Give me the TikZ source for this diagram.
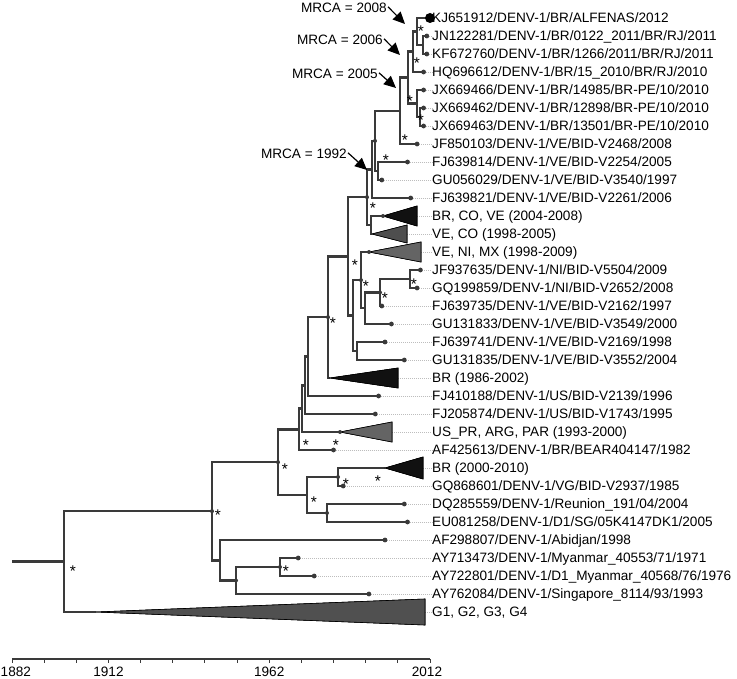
\documentclass[tikz,border=0pt]{standalone}
\usepackage{fontspec}
\setmainfont{Liberation Sans}
\usetikzlibrary{arrows.meta}
\definecolor{brc}{HTML}{3A3A3A}
\definecolor{leadc}{HTML}{BDBDBD}
\definecolor{triA}{HTML}{111111}
\definecolor{triB}{HTML}{4E4E4E}
\definecolor{triC}{HTML}{646464}
\definecolor{triG}{HTML}{505050}
\newcommand{\mytip}[4]{%
  \coordinate (#1) at (#2,#3);
  \node[lab] (#1L) at (432,#3+4.9) {#4};
  \draw[lead] (#1) -- (#1 -| #1L.west);}
\newcommand{\mytri}[7]{% name, apex x, y, base x, half height, fill, label
  \coordinate (#1) at (#2,#3);
  \node[lab] (#1L) at (432,#3+4.9) {#7};
  \draw[lead] (#4,#3) -- (#1 -| #1L.west);
  \filldraw[fill=#6, draw=black, line width=0.6pt] (#1) -- (#4,#3-#5) -- (#4,#3+#5) -- cycle;}
\begin{document}
\begin{tikzpicture}[x=1pt,y=-1pt,
  br/.style={draw=brc, line width=2.5pt},
  lead/.style={draw=leadc, line width=0.7pt, dash pattern=on 1pt off 1pt},
  tipdot/.style={circle, fill=brc, inner sep=0pt, minimum size=4.8pt},
  inndot/.style={circle, fill=brc, inner sep=0pt, minimum size=4pt},
  lab/.style={anchor=base west, inner sep=0pt, font=\fontsize{13.6}{16}\selectfont},
  ast/.style={anchor=base, inner sep=0pt, font=\fontsize{15.5}{16}\selectfont},
  mrca/.style={anchor=base east, inner sep=0pt, font=\fontsize{13.6}{16}\selectfont},
  arr/.style={draw=black, line width=1.2pt, -{Triangle[length=12pt,width=11pt]}},
  axl/.style={anchor=base, inner sep=0pt, font=\fontsize{13.6}{16}\selectfont}]
\useasboundingbox (0,0) rectangle (737,679);

% ---------- tips and labels ----------
\mytip{t1}{430}{18}{KJ651912/DENV-1/BR/ALFENAS/2012}
\mytip{t2}{426.8}{36}{JN122281/DENV-1/BR/0122\_2011/BR/RJ/2011}
\mytip{t3}{426.8}{54}{KF672760/DENV-1/BR/1266/2011/BR/RJ/2011}
\mytip{t4}{423.6}{72}{HQ696612/DENV-1/BR/15\_2010/BR/RJ/2010}
\mytip{t5}{423.6}{90}{JX669466/DENV-1/BR/14985/BR-PE/10/2010}
\mytip{t6}{423.6}{108}{JX669462/DENV-1/BR/12898/BR-PE/10/2010}
\mytip{t7}{423.6}{126}{JX669463/DENV-1/BR/13501/BR-PE/10/2010}
\mytip{t8}{417.1}{144}{JF850103/DENV-1/VE/BID-V2468/2008}
\mytip{t9}{407.5}{162}{FJ639814/DENV-1/VE/BID-V2254/2005}
\mytip{t10}{381.8}{180}{GU056029/DENV-1/VE/BID-V3540/1997}
\mytip{t11}{410.7}{198}{FJ639821/DENV-1/VE/BID-V2261/2006}
\mytri{t12}{383}{216}{417}{10}{triA}{BR, CO, VE (2004-2008)}
\mytri{t13}{372}{234}{407}{9}{triB}{VE, CO (1998-2005)}
\mytri{t14}{369}{252}{421}{10}{triC}{VE, NI, MX (1998-2009)}
\mytip{t15}{420.4}{270}{JF937635/DENV-1/NI/BID-V5504/2009}
\mytip{t16}{417.1}{288}{GQ199859/DENV-1/NI/BID-V2652/2008}
\mytip{t17}{381.8}{306}{FJ639735/DENV-1/VE/BID-V2162/1997}
\mytip{t18}{391.4}{324}{GU131833/DENV-1/VE/BID-V3549/2000}
\mytip{t19}{385}{342}{FJ639741/DENV-1/VE/BID-V2169/1998}
\mytip{t20}{404.3}{360}{GU131835/DENV-1/VE/BID-V3552/2004}
\mytri{t21}{330}{378}{398}{10}{triA}{BR (1986-2002)}
\mytip{t22}{378.6}{396}{FJ410188/DENV-1/US/BID-V2139/1996}
\mytip{t23}{375.3}{414}{FJ205874/DENV-1/US/BID-V1743/1995}
\mytri{t24}{340}{432}{392}{10}{triC}{US\_PR, ARG, PAR (1993-2000)}
\mytip{t25}{333.5}{450}{AF425613/DENV-1/BR/BEAR404147/1982}
\mytri{t26}{385}{468}{423}{11}{triA}{BR (2000-2010)}
\mytip{t27}{343.2}{486}{GQ868601/DENV-1/VG/BID-V2937/1985}
\mytip{t28}{404.3}{504}{DQ285559/DENV-1/Reunion\_191/04/2004}
\mytip{t29}{407.5}{522}{EU081258/DENV-1/D1/SG/05K4147DK1/2005}
\mytip{t30}{385}{540}{AF298807/DENV-1/Abidjan/1998}
\mytip{t31}{298.2}{558}{AY713473/DENV-1/Myanmar\_40553/71/1971}
\mytip{t32}{314.2}{576}{AY722801/DENV-1/D1\_Myanmar\_40568/76/1976}
\mytip{t33}{368.9}{594}{AY762084/DENV-1/Singapore\_8114/93/1993}
\mytri{t34}{96}{612}{425}{13}{triG}{G1, G2, G3, G4}

% ---------- internal nodes ----------
\coordinate (nJNKF) at (423,45);
\coordinate (n2008) at (417,31.5);
\coordinate (n2006) at (413,51.75);
\coordinate (nJXb) at (420,117);
\coordinate (nJX) at (417,103.5);
\coordinate (n2005) at (408,77.6);
\coordinate (nR) at (400,110.8);
\coordinate (nT) at (378,171);
\coordinate (n1992) at (375,140.9);
\coordinate (nP) at (372,169.5);
\coordinate (nK) at (371,225);
\coordinate (nJ) at (367,197.2);
\coordinate (nJFGQ) at (410,279);
\coordinate (nN) at (380,292.5);
\coordinate (nO) at (365,308.25);
\coordinate (nV) at (361,280.1);
\coordinate (nU) at (357,351);
\coordinate (nW) at (353,315.6);
\coordinate (nI) at (348,256.4);
\coordinate (nH) at (328,317.2);
\coordinate (nXb) at (308,356.6);
\coordinate (nXa) at (305,385.3);
\coordinate (nY) at (302,408.6);
\coordinate (nZ) at (299,429.3);
\coordinate (nQ) at (338,477);
\coordinate (nDE) at (327,513);
\coordinate (nBb) at (307,495);
\coordinate (nB) at (278,462.2);
\coordinate (nE) at (280,567);
\coordinate (nD) at (236,580.5);
\coordinate (nC) at (220,560.3);
\coordinate (nA) at (212,511.2);
\coordinate (nRoot) at (64,561.6);
\coordinate (nStart) at (12,561.6);

% ---------- branches ----------
\draw[br] (nJNKF) |- (t2); \draw[br] (nJNKF) |- (t3);
\draw[br] (n2008) |- (t1); \draw[br] (n2008) |- (nJNKF);
\draw[br] (n2006) |- (n2008); \draw[br] (n2006) |- (t4);
\draw[br] (nJXb) |- (t6); \draw[br] (nJXb) |- (t7);
\draw[br] (nJX) |- (t5); \draw[br] (nJX) |- (nJXb);
\draw[br] (n2005) |- (n2006); \draw[br] (n2005) |- (nJX);
\draw[br] (nR) |- (n2005); \draw[br] (nR) |- (t8);
\draw[br] (nT) |- (t9); \draw[br] (nT) |- (t10);
\draw[br] (n1992) |- (nR); \draw[br] (n1992) |- (nT);
\draw[br] (nP) |- (n1992); \draw[br] (nP) |- (t11);
\draw[br] (nK) |- (t12); \draw[br] (nK) |- (t13);
\draw[br] (nJ) |- (nP); \draw[br] (nJ) |- (nK);
\draw[br] (nJFGQ) |- (t15); \draw[br] (nJFGQ) |- (t16);
\draw[br] (nN) |- (nJFGQ); \draw[br] (nN) |- (t17);
\draw[br] (nO) |- (nN); \draw[br] (nO) |- (t18);
\draw[br] (nV) |- (t14); \draw[br] (nV) |- (nO);
\draw[br] (nU) |- (t19); \draw[br] (nU) |- (t20);
\draw[br] (nW) |- (nV); \draw[br] (nW) |- (nU);
\draw[br] (nI) |- (nJ); \draw[br] (nI) |- (nW);
\draw[br] (nH) |- (nI); \draw[br] (nH) |- (t21);
\draw[br] (nXb) |- (nH); \draw[br] (nXb) |- (t22);
\draw[br] (nXa) |- (nXb); \draw[br] (nXa) |- (t23);
\draw[br] (nY) |- (nXa); \draw[br] (nY) |- (t24);
\draw[br] (nZ) |- (nY); \draw[br] (nZ) |- (t25);
\draw[br] (nQ) |- (t26); \draw[br] (nQ) |- (t27);
\draw[br] (nDE) |- (t28); \draw[br] (nDE) |- (t29);
\draw[br] (nBb) |- (nQ); \draw[br] (nBb) |- (nDE);
\draw[br] (nB) |- (nZ); \draw[br] (nB) |- (nBb);
\draw[br] (nE) |- (t31); \draw[br] (nE) |- (t32);
\draw[br] (nD) |- (nE); \draw[br] (nD) |- (t33);
\draw[br] (nC) |- (t30); \draw[br] (nC) |- (nD);
\draw[br] (nA) |- (nB); \draw[br] (nA) |- (nC);
\draw[br] (nRoot) |- (nA); \draw[br] (nRoot) |- (t34);
\draw[br, line width=3.2pt] (nStart) -- (nRoot);

% redraw triangles over stems
\foreach \a/\bx/\y/\h/\c in {383/417/216/10/triA, 372/407/234/9/triB, 369/421/252/10/triC, 330/398/378/10/triA, 340/392/432/10/triC, 385/423/468/11/triA, 96/425/612/13/triG}
  \filldraw[fill=\c, draw=black, line width=0.6pt] (\a,\y) -- (\bx,\y-\h) -- (\bx,\y+\h) -- cycle;

% ---------- dots ----------
\foreach \t in {t2,t3,t4,t5,t6,t7,t8,t9,t10,t11,t15,t16,t17,t18,t19,t20,t22,t23,t25,t27,t28,t29,t30,t31,t32,t33}
  \node[tipdot] at (\t) {};
\node[circle, fill=black, inner sep=0pt, minimum size=10pt] (bigdot) at (t1) {};
\foreach \n in {nJ,n1992,nV,nN,nH,nQ,nDE,nD,nE,t12,t14,t24,nA,nB}
  \node[inndot] at (\n) {};

% ---------- support stars ----------
\foreach \x/\y [count=\i] in {421/37, 417/69, 410/107, 421/126, 405/146, 386/166, 373/214, 355/271, 366/292, 414/290, 385/304, 333/329, 306/450, 336/450, 285/474, 314/507, 346/489, 378/486, 218/520, 286/576, 73/576}
  \node[ast] (s\i) at (\x,\y) {*};

% ---------- MRCA annotations ----------
\node[mrca] (m1) at (387,12.5) {MRCA = 2008};
\node[mrca] (m2) at (383,44.5) {MRCA = 2006};
\node[mrca] (m3) at (378,78.5) {MRCA = 2005};
\node[mrca] (m4) at (347,158.5) {MRCA = 1992};
\coordinate (a1) at (405,24);
\coordinate (a2) at (400,55);
\coordinate (a3) at (396,88);
\coordinate (a4) at (367,170);
\draw[arr] (m1.east) ++(1,-1) -- (a1);
\draw[arr] (m2.east) ++(1,-1) -- (a2);
\draw[arr] (m3.east) ++(1,-1) -- (a3);
\draw[arr] (m4.east) ++(1,-1) -- (a4);

% ---------- time axis ----------
\coordinate (ax0) at (12,659);
\coordinate (ax1) at (430,659);
\draw[draw=brc, line width=1.4pt] (ax0) -- (ax1);
\foreach \i in {0,...,13}
  \draw[draw=brc, line width=0.9pt] (12+\i*32.154,659) -- ++(0,4);
\node[axl, anchor=base west] (y1) at (0.5,676) {1882};
\node[axl] (y2) at (108.5,676) {1912};
\node[axl] (y3) at (269.2,676) {1962};
\node[axl] (y4) at (427,676) {2012};
\end{tikzpicture}
\end{document}
